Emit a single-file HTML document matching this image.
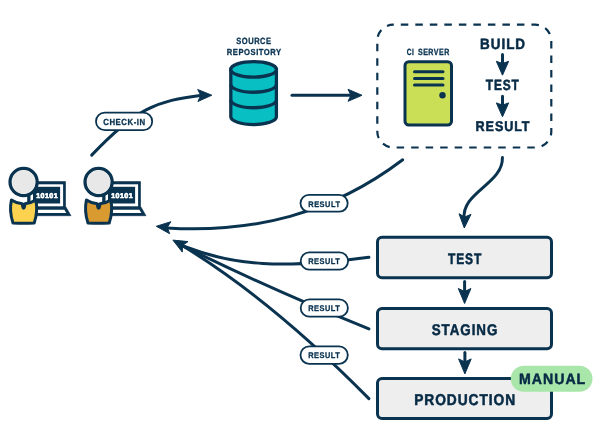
<!DOCTYPE html>
<html><head><meta charset="utf-8">
<style>
html,body{margin:0;padding:0;background:#fff;width:600px;height:444px;overflow:hidden}
svg{display:block;will-change:transform}
text{font-family:"Liberation Sans",sans-serif;font-weight:bold;text-rendering:geometricPrecision}
</style></head><body>
<svg width="600" height="444" viewBox="0 0 600 444">
<g fill="none" stroke="#0a3350" stroke-width="3" stroke-linecap="round">
<path d="M91.7 155.1 C135.7 108.7 156.2 100.7 202 95.2"/>
<path d="M292 95.3 H352"/>
<path d="M502.4 157.6 C503.3 183.6 460.5 192.9 464.3 219"/>
<path d="M402.7 159.8 C330.8 214.3 252.7 233.3 167 228"/>
<path d="M368.9 257.3 C282.9 269 234.1 266 183 246"/>
<path d="M368.9 328.9 C305.5 303.3 247.4 277.8 183 246"/>
<path d="M368.9 398.6 C317.4 346.4 254.4 289.5 183 246"/>
<path d="M464.6 281.5 V292"/>
<path d="M464.9 352.6 V363"/>
<path d="M502.5 54.6 V66"/>
<path d="M502.5 96.2 V107"/>
</g>
<rect x="377.3" y="24.7" width="174" height="122.8" rx="16" fill="none" stroke="#0a3350" stroke-width="2.2" stroke-dasharray="7.5 7.015" stroke-dashoffset="7.015" stroke-linecap="butt"/>
<polygon points="211.80,95.20 197.92,101.48 200.80,95.42 197.68,89.48" fill="#0a3350" stroke="#0a3350" stroke-width="1" stroke-linejoin="round"/>
<polygon points="362.00,95.30 348.00,101.30 351.00,95.30 348.00,89.30" fill="#0a3350" stroke="#0a3350" stroke-width="1" stroke-linejoin="round"/>
<polygon points="464.30,228.00 459.01,213.72 464.85,217.01 470.99,214.32" fill="#0a3350" stroke="#0a3350" stroke-width="1" stroke-linejoin="round"/>
<polygon points="156.30,226.30 170.83,221.72 167.25,227.39 169.63,233.66" fill="#0a3350" stroke="#0a3350" stroke-width="1" stroke-linejoin="round"/>
<polygon points="172.90,240.10 188.06,241.59 182.54,245.40 182.28,252.10" fill="#0a3350" stroke="#0a3350" stroke-width="1" stroke-linejoin="round"/>
<polygon points="464.60,303.50 458.30,288.50 464.60,291.50 470.90,288.50" fill="#0a3350" stroke="#0a3350" stroke-width="1" stroke-linejoin="round"/>
<polygon points="464.90,373.90 458.60,358.90 464.90,361.90 471.20,358.90" fill="#0a3350" stroke="#0a3350" stroke-width="1" stroke-linejoin="round"/>
<polygon points="502.50,75.20 496.35,61.30 502.50,63.50 508.65,61.30" fill="#0a3350" stroke="#0a3350" stroke-width="1" stroke-linejoin="round"/>
<polygon points="502.50,116.80 496.35,102.90 502.50,105.10 508.65,102.90" fill="#0a3350" stroke="#0a3350" stroke-width="1" stroke-linejoin="round"/>
<g stroke="#0a3350" stroke-width="3.3" fill="#08c0c4">
<path d="M230.8 69.4 V116.8 A22.8 7.75 0 0 0 276.4 116.8 V69.4 Z"/>
<ellipse cx="253.6" cy="69.4" rx="22.8" ry="7.75"/>
<path d="M230.8 84.5 A22.8 7.75 0 0 0 276.4 84.5" fill="none"/>
<path d="M230.8 100 A22.8 7.75 0 0 0 276.4 100" fill="none"/>
</g>
<rect x="405.0" y="61.7" width="46.5" height="63.3" rx="3.8" fill="#cadf56" stroke="#0a3350" stroke-width="3"/>
<g stroke="#0a3350" stroke-width="3" stroke-linecap="round"><path d="M414.5 71.7 H443"/><path d="M414.5 78.5 H443"/><path d="M414.5 85 H443"/></g>
<circle cx="442.5" cy="95.2" r="3.2" fill="#0a3350"/>
<g fill="#fff" stroke="#0a3350" stroke-width="1.8">
<rect x="96" y="112.6" width="56.2" height="17.6" rx="8.8"/>
<rect x="300.5" y="194.9" width="47.2" height="16.8" rx="8.4"/>
<rect x="300.7" y="252.4" width="47.4" height="17.2" rx="8.6"/>
<rect x="300.7" y="299.3" width="47.2" height="17.4" rx="8.7"/>
<rect x="300.5" y="346.4" width="47.3" height="17.4" rx="8.7"/>
</g>
<g fill="#eeeeee" stroke="#0a3350" stroke-width="3">
<rect x="377.5" y="237.2" width="174" height="40.6" rx="4.5"/>
<rect x="377.5" y="308.5" width="174" height="40.3" rx="4.5"/>
<rect x="377.5" y="378.5" width="174" height="40" rx="4.5"/>
</g>
<rect x="510.8" y="365.8" width="81.7" height="25.9" rx="12.95" fill="#a8e6aa"/>
<path d="M27.5 181.6 H65.5 V206.3 L71 215.7 H27.5 Z" fill="#0a3350" stroke="#0a3350" stroke-width="0.6" stroke-linejoin="round"/>
<rect x="30.5" y="184.3" width="32.6" height="22" fill="#fff"/>
<rect x="33" y="186.8" width="27.1" height="16.7" fill="#0a3350"/>
<path d="M33 209.8 H64.4 L66.3 213 H33 Z" fill="#fff"/>
<path d="M11.41 200.07 Q9.000000000000002 211 13.000000000000002 223.0 Q23.6 223.4 34.2 223.0 Q38.2 211 35.79 200.07 A21.8 21.8 0 0 1 24.900000000000002 203.76 Q24.700000000000003 208.3 23.6 208.3 Q22.5 208.3 22.3 203.76 A21.8 21.8 0 0 1 11.41 200.07 Z" fill="#fdd24e" stroke="#0a3350" stroke-width="3" stroke-linejoin="round"/>
<circle cx="23.6" cy="182.0" r="13.55" fill="#fff" stroke="#0a3350" stroke-width="3.3"/>
<circle cx="23.6" cy="182.0" r="11.5" fill="#e8e8e8"/>
<path d="M102.5 181.6 H140.5 V206.3 L146 215.7 H102.5 Z" fill="#0a3350" stroke="#0a3350" stroke-width="0.6" stroke-linejoin="round"/>
<rect x="105.5" y="184.3" width="32.6" height="22" fill="#fff"/>
<rect x="108" y="186.8" width="27.1" height="16.7" fill="#0a3350"/>
<path d="M108 209.8 H139.4 L141.3 213 H108 Z" fill="#fff"/>
<path d="M86.41 200.07 Q84.0 211 88.0 223.0 Q98.6 223.4 109.19999999999999 223.0 Q113.19999999999999 211 110.79 200.07 A21.8 21.8 0 0 1 99.89999999999999 203.76 Q99.69999999999999 208.3 98.6 208.3 Q97.5 208.3 97.3 203.76 A21.8 21.8 0 0 1 86.41 200.07 Z" fill="#d99b30" stroke="#0a3350" stroke-width="3" stroke-linejoin="round"/>
<circle cx="98.6" cy="182.0" r="13.55" fill="#fff" stroke="#0a3350" stroke-width="3.3"/>
<circle cx="98.6" cy="182.0" r="11.5" fill="#e8e8e8"/>
<text transform="translate(236.33,44.36) scale(0.0750,0.0901)" font-size="100" letter-spacing="7" fill="#0a3350" stroke="#0a3350" stroke-width="3.63" stroke-linejoin="round">SOURCE</text>
<text transform="translate(226.82,54.96) scale(0.0761,0.0873)" font-size="100" letter-spacing="7" fill="#0a3350" stroke="#0a3350" stroke-width="3.67" stroke-linejoin="round">REPOSITORY</text>
<text transform="translate(103.24,124.66) scale(0.0780,0.0887)" font-size="100" letter-spacing="7" fill="#0a3350" stroke="#0a3350" stroke-width="3.60" stroke-linejoin="round">CHECK-IN</text>
<text transform="translate(406.64,55.26) scale(0.0661,0.0901)" font-size="100" letter-spacing="7" fill="#0a3350" stroke="#0a3350" stroke-width="3.84" stroke-linejoin="round">CI</text>
<text transform="translate(417.94,55.26) scale(0.0704,0.0901)" font-size="100" letter-spacing="7" fill="#0a3350" stroke="#0a3350" stroke-width="3.74" stroke-linejoin="round">SERVER</text>
<text transform="translate(480.05,48.60) scale(0.1351,0.1500)" font-size="100" letter-spacing="7" fill="#072a45" stroke="#072a45" stroke-width="3.51" stroke-linejoin="round">BUILD</text>
<text transform="translate(485.83,90.30) scale(0.1193,0.1479)" font-size="100" letter-spacing="7" fill="#072a45" stroke="#072a45" stroke-width="3.74" stroke-linejoin="round">TEST</text>
<text transform="translate(475.62,131.36) scale(0.1262,0.1408)" font-size="100" letter-spacing="7" fill="#072a45" stroke="#072a45" stroke-width="3.74" stroke-linejoin="round">RESULT</text>
<text transform="translate(308.23,206.57) scale(0.0745,0.0803)" font-size="100" letter-spacing="7" fill="#0a3350" stroke="#0a3350" stroke-width="3.88" stroke-linejoin="round">RESULT</text>
<text transform="translate(308.23,264.27) scale(0.0740,0.0817)" font-size="100" letter-spacing="7" fill="#0a3350" stroke="#0a3350" stroke-width="3.85" stroke-linejoin="round">RESULT</text>
<text transform="translate(308.23,311.27) scale(0.0740,0.0817)" font-size="100" letter-spacing="7" fill="#0a3350" stroke="#0a3350" stroke-width="3.85" stroke-linejoin="round">RESULT</text>
<text transform="translate(308.23,358.27) scale(0.0740,0.0817)" font-size="100" letter-spacing="7" fill="#0a3350" stroke="#0a3350" stroke-width="3.85" stroke-linejoin="round">RESULT</text>
<text transform="translate(448.03,263.60) scale(0.1200,0.1521)" font-size="100" letter-spacing="7" fill="#072a45" stroke="#072a45" stroke-width="3.67" stroke-linejoin="round">TEST</text>
<text transform="translate(431.75,334.50) scale(0.1339,0.1549)" font-size="100" letter-spacing="7" fill="#072a45" stroke="#072a45" stroke-width="3.46" stroke-linejoin="round">STAGING</text>
<text transform="translate(414.19,405.39) scale(0.1373,0.1563)" font-size="100" letter-spacing="7" fill="#072a45" stroke="#072a45" stroke-width="3.41" stroke-linejoin="round">PRODUCTION</text>
<text transform="translate(519.01,383.85) scale(0.1414,0.1500)" font-size="100" letter-spacing="7" fill="#072a45" stroke="#072a45" stroke-width="3.43" stroke-linejoin="round">MANUAL</text>
<text transform="translate(36.13,197.68) scale(0.0704,0.0690)" font-size="100" letter-spacing="7" fill="#ffffff" stroke="#ffffff" stroke-width="10.04" stroke-linejoin="round">10101</text>
<text transform="translate(111.13,197.68) scale(0.0704,0.0690)" font-size="100" letter-spacing="7" fill="#ffffff" stroke="#ffffff" stroke-width="10.04" stroke-linejoin="round">10101</text>
</svg>
</body></html>
